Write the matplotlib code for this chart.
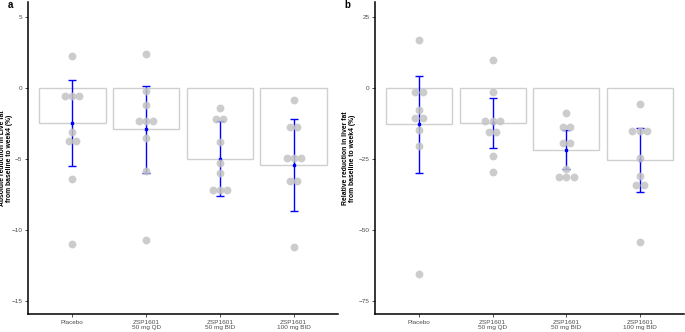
import matplotlib
matplotlib.use('Agg')
import matplotlib.pyplot as plt
import numpy as np

plt.rcParams['font.family'] = ['Liberation Sans', 'DejaVu Sans']

groups = ['Placebo', 'ZSP1601\n50 mg QD', 'ZSP1601\n50 mg BID', 'ZSP1601\n100 mg BID']

# panel a: absolute reduction
abs_mean = [-2.48, -2.88, -4.97, -5.42]
abs_sd = [3.02, 3.06, 2.64, 3.23]
abs_points = [
    [2.23, -0.59, -0.59, -0.59, -3.1, -3.73, -3.73, -6.41, -11.0],
    [2.42, -0.19, -1.2, -2.32, -2.32, -2.32, -3.5, -5.8, -10.7],
    [-1.39, -2.18, -2.18, -3.8, -5.3, -6.0, -7.2, -7.2, -7.2],
    [-0.87, -2.75, -2.75, -4.93, -4.93, -4.93, -6.55, -6.55, -11.2],
]

# panel b: relative reduction
rel_mean = [-12.8, -12.4, -21.8, -25.5]
rel_sd = [17.2, 8.85, 6.85, 11.25]
rel_points = [
    [17.0, -1.3, -1.3, -7.75, -10.4, -10.4, -14.7, -20.4, -65.6],
    [9.74, -1.3, -11.6, -11.6, -11.6, -15.5, -15.5, -24.1, -29.7],
    [-8.7, -13.6, -13.6, -19.4, -19.4, -28.4, -31.3, -31.3, -31.3],
    [-5.75, -15.0, -15.0, -15.0, -24.6, -31.0, -34.2, -34.2, -54.1],
]


def swarm_x(vals, center, step):
    vals = np.asarray(vals)
    xs = np.zeros(len(vals))
    for v in np.unique(vals):
        idx = np.where(vals == v)[0]
        n = len(idx)
        xs[idx] = center + (np.arange(n) - (n - 1) / 2) * step
    return xs


def panel(ax, means, sds, points, ylim, yticks, ylabel, step, labx):
    x = np.arange(len(groups))
    ax.bar(x, means, width=0.9, facecolor='white', edgecolor='#cfcfcf',
           linewidth=1.0, zorder=1)
    ax.errorbar(x, means, yerr=sds, fmt='s', color='#0000ff', ms=1.8,
                elinewidth=1.0, capsize=2.6, capthick=1.0, zorder=2)
    for i, pts in enumerate(points):
        ax.scatter(swarm_x(pts, i, step), pts, s=32, color='#c4c4c4',
                   alpha=0.85, linewidths=0, zorder=3)
    ax.set_xlim(-0.6, 3.6)
    ax.set_ylim(*ylim)
    ax.set_xticks(x)
    ax.set_xticklabels(groups, fontsize=4.6, color='#4d4d4d', linespacing=1.1)
    ax.set_yticks(yticks)
    ax.set_yticklabels([str(t).replace('-', '\u2212') for t in yticks],
                       fontsize=4.6, color='#4d4d4d')
    ax.tick_params(length=2, width=0.6, color='#333333', pad=2)
    ax.set_ylabel(ylabel, fontsize=4.9, fontweight='bold', linespacing=1.1,
                  va='center')
    ax.yaxis.set_label_coords(labx, 0.5)
    for s in ['top', 'right']:
        ax.spines[s].set_visible(False)
    for s in ['left', 'bottom']:
        ax.spines[s].set_linewidth(1.1)
        ax.spines[s].set_color('black')


fig = plt.figure(figsize=(6.85, 3.32), dpi=100)
ax1 = fig.add_axes([0.0409, 0.054, 0.4525, 0.94])
ax2 = fig.add_axes([0.5474, 0.054, 0.4511, 0.94])

panel(ax1, abs_mean, abs_sd, abs_points, (-15.9, 6.06), [5, 0, -5, -10, -15],
      'Absolute reduction in Live fat\nfrom baseline to week4 (%)', 0.095, -0.071)
panel(ax2, rel_mean, rel_sd, rel_points, (-79.6, 30.3), [25, 0, -25, -50, -75],
      'Relative reduction in liver fat\nfrom baseline to week4 (%)', 0.1, -0.084)

fig.text(0.012, 0.984, 'a', fontsize=7, fontweight='bold', va='center')
fig.text(0.503, 0.984, 'b', fontsize=7, fontweight='bold', va='center')

fig.savefig('out.png', dpi=100)
